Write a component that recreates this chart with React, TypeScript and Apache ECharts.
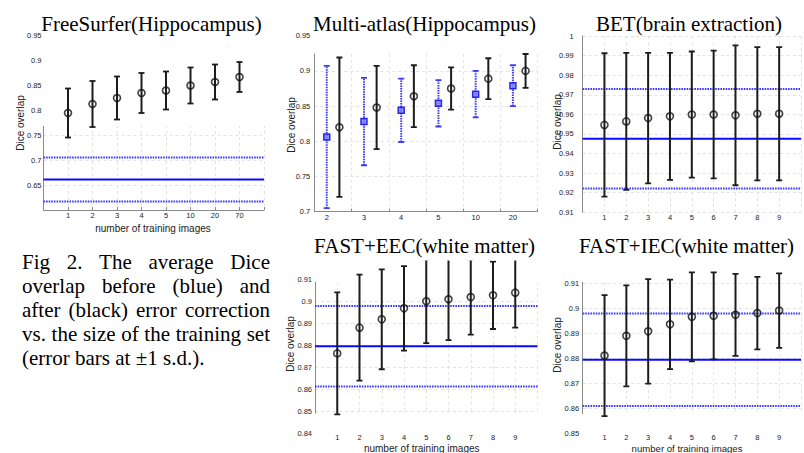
import React, { useEffect, useRef } from 'react';
import * as echarts from 'echarts';

// ---------- data ----------
// FreeSurfer (Hippocampus)
const fsTicks = ['1', '2', '3', '4', '5', '10', '20', '70'];
const fsMean = [0.794, 0.812, 0.824, 0.834, 0.839, 0.849, 0.856, 0.866];
const fsSd = [0.049, 0.046, 0.043, 0.040, 0.038, 0.036, 0.035, 0.030];
const fsBase = 0.661;
const fsBaseSd = 0.044;

// Multi-atlas (Hippocampus)
const maTicks = ['2', '3', '4', '5', '10', '20'];
const maBeforeMean = [0.806, 0.828, 0.844, 0.854, 0.867, 0.879];
const maBeforeSd = [0.101, 0.062, 0.045, 0.033, 0.033, 0.029];
const maAfterMean = [0.820, 0.848, 0.864, 0.875, 0.889, 0.900];
const maAfterSd = [0.099, 0.059, 0.044, 0.030, 0.029, 0.024];

// BET (brain extraction)
const betTicks = ['1', '2', '3', '4', '5', '6', '7', '8', '9'];
const betMean = [0.9546, 0.9564, 0.9581, 0.959, 0.9599, 0.9599, 0.9595, 0.9603, 0.9603];
const betSd = [0.0366, 0.035, 0.0333, 0.0324, 0.0322, 0.0326, 0.0357, 0.034, 0.034];
const betBase = 0.9476;
const betBaseSd = 0.0254;

// FAST+EEC (white matter)
const eecTicks = ['1', '2', '3', '4', '5', '6', '7', '8', '9'];
const eecMean = [0.8765, 0.8882, 0.892, 0.897, 0.9002, 0.9011, 0.9021, 0.9029, 0.9041];
const eecSd = [0.0277, 0.0241, 0.0227, 0.0192, 0.019, 0.0186, 0.0171, 0.0153, 0.0159];
const eecBase = 0.8797;
const eecBaseSd = 0.0183;

// FAST+IEC (white matter)
const iecTicks = ['1', '2', '3', '4', '5', '6', '7', '8', '9'];
const iecMean = [0.8811, 0.889, 0.8908, 0.8936, 0.8966, 0.897, 0.8974, 0.8981, 0.8991];
const iecSd = [0.0242, 0.0202, 0.0209, 0.0179, 0.0178, 0.0174, 0.0164, 0.0145, 0.0149];
const iecBase = 0.8794;
const iecBaseSd = 0.0185;

const titles = [
  'FreeSurfer(Hippocampus)',
  'Multi-atlas(Hippocampus)',
  'BET(brain extraction)',
  'FAST+EEC(white matter)',
  'FAST+IEC(white matter)',
];
const yName = 'Dice overlap';
const xName = 'number of training images';
const captionJustified = [
  'Fig 2. The average Dice',
  'overlap before (blue) and',
  'after (black) error correction',
  'vs. the size of the training set',
];
const captionLast = '(error bars at \u00b11 s.d.).';

// ---------- styling ----------
const SANS = '"Liberation Sans", Arial, Helvetica, sans-serif';
const SERIF = '"Liberation Serif", "Times New Roman", Times, serif';
const BLACK = '#1c1c1c';
const BLUE = '#0a0aff';
const BLUE_DOT = '#3a3aff';
const AXIS = '#8a8a8a';
const GRIDC = '#e3e3e3';

const fmtY = (hide: number[]) => (v: number) => {
  const r = parseFloat(v.toFixed(3));
  if (hide.some((h) => Math.abs(h - r) < 1e-6)) return '';
  return String(parseFloat(v.toFixed(2)));
};

let measureCtx: CanvasRenderingContext2D | null = null;
function measure(text: string, font: string) {
  if (!measureCtx) measureCtx = document.createElement('canvas').getContext('2d');
  if (!measureCtx) return text.length * 9;
  measureCtx.font = font;
  return measureCtx.measureText(text).width;
}

function errRender(color: string, dotted: boolean) {
  return (params: any, api: any) => {
    const x = api.value(0);
    const lo = api.value(1);
    const hi = api.value(2);
    const a = api.coord([x, lo]);
    const b = api.coord([x, hi]);
    const cap = 3;
    const lineStyle: any = { stroke: color, lineWidth: 2 };
    if (dotted) lineStyle.lineDash = [1.5, 1];
    return {
      type: 'group',
      children: [
        { type: 'line', shape: { x1: a[0], y1: a[1], x2: b[0], y2: b[1] }, style: lineStyle },
        { type: 'line', shape: { x1: a[0] - cap, y1: a[1], x2: a[0] + cap, y2: a[1] }, style: { stroke: color, lineWidth: 1.8 } },
        { type: 'line', shape: { x1: b[0] - cap, y1: b[1], x2: b[0] + cap, y2: b[1] }, style: { stroke: color, lineWidth: 1.8 } },
      ],
    };
  };
}

function buildOption() {
  const panels = [
    { grid: { left: 43.5, top: 35, width: 220.5, height: 175 }, yMin: 0.6, yMax: 0.95, yInt: 0.05, hideY: [0.6], xMax: 9, yMargin: 2, xMargin: 1, xLine: true, ticks: fsTicks },
    { grid: { left: 314.3, top: 35.7, width: 223.4, height: 176 }, yMin: 0.7, yMax: 0.95, yInt: 0.05, hideY: [], xMax: 6, yMargin: 4, xMargin: 2, xLine: true, ticks: maTicks },
    { grid: { left: 582.6, top: 36, width: 224, height: 176.3 }, yMin: 0.91, yMax: 1, yInt: 0.01, hideY: [], xMax: 10, yMargin: 9, xMargin: 1, xLine: false, ticks: betTicks },
    { grid: { left: 315, top: 257.7, width: 222.5, height: 176 }, yMin: 0.84, yMax: 0.92, yInt: 0.01, hideY: [0.92], xMax: 10, yMargin: 3, xMargin: 0, xLine: false, ticks: eecTicks },
    { grid: { left: 582.7, top: 258.3, width: 223, height: 175 }, yMin: 0.85, yMax: 0.92, yInt: 0.01, hideY: [0.92], xMax: 10, yMargin: 3.5, xMargin: 0.5, xLine: false, ticks: iecTicks },
  ];

  const grid: any[] = [];
  const xAxis: any[] = [];
  const yAxis: any[] = [];
  const series: any[] = [];

  const maOffsetBefore = 0.334;
  const maOffsetAfter = 0.674;

  panels.forEach((p, k) => {
    grid.push({ ...p.grid, containLabel: false, show: false });
    const xa: any = {
      type: 'value',
      gridIndex: k,
      min: 0,
      max: p.xMax,
      interval: 1,
      axisLine: { show: p.xLine, lineStyle: { color: AXIS, width: 1 } },
      axisTick: { show: k < 2, inside: true, length: 3, lineStyle: { color: AXIS } },
      splitLine: { show: true, lineStyle: { color: GRIDC, type: [3, 3], width: 1 } },
      axisLabel: {
        fontFamily: SANS,
        fontSize: 7.5,
        color: '#222',
        margin: p.xMargin,
        showMinLabel: true,
        showMaxLabel: true,
        formatter: (v: number) => (v >= 1 && v <= p.ticks.length && Math.abs(v - Math.round(v)) < 1e-6 ? p.ticks[Math.round(v) - 1] : ''),
      },
    };
    if (k === 1) {
      xa.axisLabel = {
        fontFamily: SANS,
        fontSize: 7.5,
        color: '#222',
        margin: p.xMargin,
        customValues: maTicks.map((_, i) => i + maOffsetBefore),
        formatter: (v: number) => maTicks[Math.floor(v)] ?? '',
      };
    }
    xAxis.push(xa);
    yAxis.push({
      type: 'value',
      gridIndex: k,
      min: p.yMin,
      max: p.yMax,
      interval: p.yInt,
      axisLine: { show: true, lineStyle: { color: AXIS, width: 1 } },
      axisTick: { show: false },
      splitLine: { show: true, lineStyle: { color: GRIDC, type: [3, 3], width: 1 } },
      axisLabel: {
        fontFamily: SANS,
        fontSize: 7.5,
        color: '#222',
        margin: p.yMargin,
        showMinLabel: true,
        showMaxLabel: true,
        formatter: fmtY(p.hideY),
      },
    });
  });

  const baseLines = (k: number, xMax: number, m: number, sd: number) => {
    const mk = (v: number, solid: boolean) => ({
      type: 'line',
      xAxisIndex: k,
      yAxisIndex: k,
      data: [[0, v], [xMax, v]],
      symbol: 'none',
      silent: true,
      clip: true,
      z: 2,
      lineStyle: solid ? { color: BLUE, width: 2 } : { color: BLUE_DOT, width: 2, type: [1.6, 1] },
    });
    series.push(mk(m, true), mk(m + sd, false), mk(m - sd, false));
  };

  const errSeries = (k: number, xs: number[], means: number[], sds: number[], color: string, dotted: boolean) => {
    series.push({
      type: 'custom',
      xAxisIndex: k,
      yAxisIndex: k,
      clip: true,
      z: 3,
      silent: true,
      renderItem: errRender(color, dotted),
      encode: { x: 0, y: [1, 2] },
      data: means.map((m, i) => [xs[i], m - sds[i], m + sds[i]]),
    });
  };

  const markerSeries = (k: number, xs: number[], means: number[], square: boolean) => {
    series.push({
      type: 'scatter',
      xAxisIndex: k,
      yAxisIndex: k,
      z: 4,
      silent: true,
      symbol: square ? 'rect' : 'circle',
      symbolSize: square ? 6 : 7,
      itemStyle: square
        ? { color: '#7a7aff', borderColor: '#0000e0', borderWidth: 1.5 }
        : { color: 'rgba(0,0,0,0)', borderColor: '#111', borderWidth: 1.6 },
      data: means.map((m, i) => [xs[i], m]),
    });
  };

  // panel 0: FreeSurfer
  const fsX = fsTicks.map((_, i) => i + 1);
  baseLines(0, 9, fsBase, fsBaseSd);
  errSeries(0, fsX, fsMean, fsSd, BLACK, false);
  markerSeries(0, fsX, fsMean, false);

  // panel 1: Multi-atlas
  const maXb = maTicks.map((_, i) => i + maOffsetBefore);
  const maXa = maTicks.map((_, i) => i + maOffsetAfter);
  errSeries(1, maXb, maBeforeMean, maBeforeSd, BLUE_DOT, true);
  markerSeries(1, maXb, maBeforeMean, true);
  errSeries(1, maXa, maAfterMean, maAfterSd, BLACK, false);
  markerSeries(1, maXa, maAfterMean, false);

  // panel 2: BET
  const betX = betTicks.map((_, i) => i + 1);
  baseLines(2, 10, betBase, betBaseSd);
  errSeries(2, betX, betMean, betSd, BLACK, false);
  markerSeries(2, betX, betMean, false);

  // panel 3: FAST+EEC
  const eecX = eecTicks.map((_, i) => i + 1);
  baseLines(3, 10, eecBase, eecBaseSd);
  errSeries(3, eecX, eecMean, eecSd, BLACK, false);
  markerSeries(3, eecX, eecMean, false);

  // panel 4: FAST+IEC
  const iecX = iecTicks.map((_, i) => i + 1);
  baseLines(4, 10, iecBase, iecBaseSd);
  errSeries(4, iecX, iecMean, iecSd, BLACK, false);
  markerSeries(4, iecX, iecMean, false);

  // ---------- graphics ----------
  const graphic: any[] = [];
  const mask = (x: number, y: number, w: number, h: number, z = 1) =>
    graphic.push({ type: 'rect', z, silent: true, shape: { x, y, width: w, height: h }, style: { fill: '#fff' } });
  mask(42.6, 30, 224, 96);
  mask(313.4, 30, 228, 23.5);
  mask(314, 256, 226, 26);
  mask(314, 413.4, 226, 21);
  mask(581.6, 256, 224, 26);
  mask(581.6, 414, 224, 20.5);
  // the lower-middle title box hides the tops of the tallest error bars
  mask(314, 248, 226, 12.6, 4.5);

  const titlePos = [
    [151.5, 24],
    [424.5, 24],
    [689, 24],
    [424.5, 246],
    [686.5, 246],
  ];
  titles.forEach((t, i) =>
    graphic.push({
      type: 'text',
      z: 5,
      x: titlePos[i][0],
      y: titlePos[i][1],
      style: { text: t, font: `21px ${SERIF}`, fill: '#000', align: 'center', verticalAlign: 'middle' },
    })
  );

  const yNamePos = [
    [20, 123],
    [291, 125],
    [557, 122],
    [290, 344],
    [557, 345],
  ];
  yNamePos.forEach((p) =>
    graphic.push({
      type: 'text',
      z: 5,
      x: p[0],
      y: p[1],
      rotation: Math.PI / 2,
      style: { text: yName, font: `10px ${SANS}`, fill: '#222', align: 'center', verticalAlign: 'middle' },
    })
  );

  const xNamePos = [
    [153, 228],
    [421.7, 448],
    [687, 448],
  ];
  xNamePos.forEach((p, i) =>
    graphic.push({
      type: 'text',
      z: 5,
      x: p[0],
      y: p[1],
      style: { text: xName, font: `${i === 2 ? 9.6 : 10}px ${SANS}`, fill: '#222', align: 'center', verticalAlign: 'middle' },
    })
  );

  // caption: justified lines between x=22 and x=270
  const capFont = `21px ${SERIF}`;
  const capLeft = 22;
  const capRight = 270;
  const lineY = [262, 286, 310, 334, 358];
  captionJustified.forEach((line, li) => {
    const words = line.split(' ');
    const widths = words.map((w) => measure(w, capFont));
    const total = widths.reduce((s, w) => s + w, 0);
    const gap = (capRight - capLeft - total) / (words.length - 1);
    let x = capLeft;
    words.forEach((w, wi) => {
      graphic.push({
        type: 'text',
        z: 5,
        x,
        y: lineY[li],
        style: { text: w, font: capFont, fill: '#000', align: 'left', verticalAlign: 'middle' },
      });
      x += widths[wi] + gap;
    });
  });
  graphic.push({
    type: 'text',
    z: 5,
    x: capLeft,
    y: lineY[4],
    style: { text: captionLast, font: capFont, fill: '#000', align: 'left', verticalAlign: 'middle' },
  });

  return {
    animation: false,
    backgroundColor: '#fff',
    grid,
    xAxis,
    yAxis,
    series,
    graphic,
  };
}

export default function App() {
  const ref = useRef<HTMLDivElement>(null);
  useEffect(() => {
    const chart = echarts.init(ref.current!, null, { renderer: 'svg' });
    chart.setOption(buildOption() as any);
    return () => chart.dispose();
  }, []);
  return (
    <div
      ref={ref}
      style={{ position: 'fixed', left: 0, top: 0, width: 804, height: 453, background: '#fff' }}
    />
  );
}
